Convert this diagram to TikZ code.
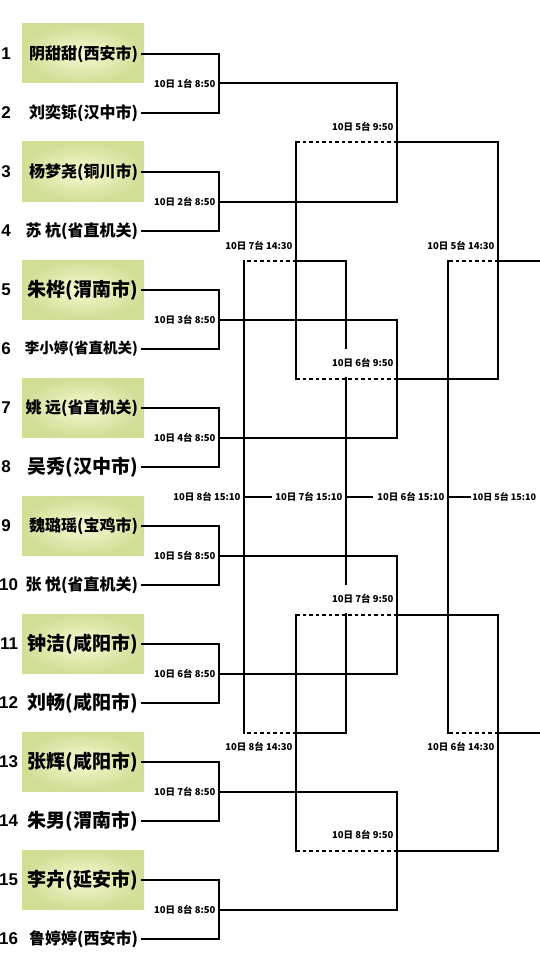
\documentclass[tikz,border=0pt]{standalone}
\usepackage{fontspec}
\setmainfont{Noto Sans CJK SC}
\newfontfamily\numfont{Liberation Sans}
\usetikzlibrary{positioning,calc}
\definecolor{seedgreen}{RGB}{208,222,150}
\definecolor{seedpale}{RGB}{250,248,210}
\newcommand{\namelg}{\fontsize{19}{19}\selectfont}
\newcommand{\namemd}{\fontsize{16}{16}\selectfont}
\newcommand{\namesm}{\fontsize{14.5}{15}\selectfont}
\tikzstyle{seedbox} = [rectangle, inner color=seedpale, outer color=seedgreen, minimum width=122pt, minimum height=59pt, inner sep=0pt]
\tikzstyle{player} = [anchor=east, inner sep=3pt, font=\bfseries]
\tikzstyle{seed} = [font=\numfont\bfseries\fontsize{17}{17}\selectfont, inner sep=0pt]
\tikzstyle{slot} = [anchor=east, font=\bfseries\fontsize{9.5}{10}\selectfont, inner sep=1pt, fill=white]
\tikzstyle{loser} = [dash pattern=on 3.5pt off 3pt, line cap=butt]

\begin{document}
\begin{tikzpicture}[x=1pt, y=-1pt, line width=2pt, line cap=rect]
  \useasboundingbox (0,0) rectangle (540,960);
  \clip (0,0) rectangle (540,960);

  % seeded players
  \node [seedbox] (s1) at (83,53.5) {};
  \node [seedbox] (s3) at (83,171.5) {};
  \node [seedbox] (s5) at (83,289.5) {};
  \node [seedbox] (s7) at (83,407.5) {};
  \node [seedbox] (s9) at (83,525.5) {};
  \node [seedbox] (s11) at (83,643.5) {};
  \node [seedbox] (s13) at (83,761.5) {};
  \node [seedbox] (s15) at (83,879.5) {};

  \foreach \n in {1,...,9}
    \node [seed] (n\n) at (6,{54+59*(\n-1)}) {\n};
  \foreach \n in {10,...,16}
    \node [seed, anchor=east] (n\n) at (19,{54+59*(\n-1)}) {\n};

  \node [player] (p1) at (142,54) {\namemd 阴甜甜(西安市)};
  \node [player] (p2) at (142,113) {\namemd 刘奕铄(汉中市)};
  \node [player] (p3) at (142,172) {\namemd 杨梦尧(铜川市)};
  \node [player] (p4) at (142,231) {\namemd 苏 杭(省直机关)};
  \node [player] (p5) at (142,290) {\namelg 朱桦(渭南市)};
  \node [player] (p6) at (142,349) {\namesm 李小婷(省直机关)};
  \node [player] (p7) at (142,408) {\namemd 姚 远(省直机关)};
  \node [player] (p8) at (142,467) {\namelg 吴秀(汉中市)};
  \node [player] (p9) at (142,526) {\namemd 魏璐瑶(宝鸡市)};
  \node [player] (p10) at (142,585) {\namemd 张 悦(省直机关)};
  \node [player] (p11) at (142,644) {\namelg 钟洁(咸阳市)};
  \node [player] (p12) at (142,703) {\namelg 刘畅(咸阳市)};
  \node [player] (p13) at (142,762) {\namelg 张辉(咸阳市)};
  \node [player] (p14) at (142,821) {\namelg 朱男(渭南市)};
  \node [player] (p15) at (142,880) {\namelg 李卉(延安市)};
  \node [player] (p16) at (142,939) {\namemd 鲁婷婷(西安市)};

  % match points
  \foreach \m in {1,...,8}
    \coordinate (r\m) at (219,{83.5+118*(\m-1)});
  \coordinate (q5) at (397,142.5);
  \coordinate (q6) at (397,378.5);
  \coordinate (q7) at (397,614.5);
  \coordinate (q8) at (397,850.5);
  \coordinate (w5) at (498,260.5);
  \coordinate (w6) at (498,732.5);
  \coordinate (d7) at (296,260.5);
  \coordinate (d8) at (296,732.5);
  \coordinate (f5) at (549,496.5);
  \coordinate (f6) at (448,496.5);
  \coordinate (f7) at (346,496.5);
  \coordinate (f8) at (244,496.5);
  \coordinate (g6) at ($(f6)+(25,0)$);
  \coordinate (g7) at ($(f7)+(26,0)$);
  \coordinate (g8) at ($(f8)+(27,0)$);

  % first round
  \foreach \m/\a/\b in {1/1/2, 2/3/4, 3/5/6, 4/7/8, 5/9/10, 6/11/12, 7/13/14, 8/15/16}
    \draw (p\a.east) -| (r\m) |- (p\b.east);

  % second round
  \draw (r1) -| (q5) |- (r2);
  \draw (r3) -| (q6) |- (r4);
  \draw (r5) -| (q7) |- (r6);
  \draw (r7) -| (q8) |- (r8);

  % winners side
  \draw (q5) -| (w5) |- (q6);
  \draw (q7) -| (w6) |- (q8);
  \draw (w5) -| (f5) |- (w6);
  \draw [loser] (w5) -- (w5 -| f6);
  \draw [loser] (w6) -- (w6 -| f6);
  \draw (w5 -| f6) -- (w6 -| f6);

  % losers side
  \draw [loser] (q5) -- (q5 -| d7);
  \draw [loser] (q6) -- (q6 -| d7);
  \draw (q5 -| d7) -- (q6 -| d7);
  \draw [loser] (q7) -- (q7 -| d8);
  \draw [loser] (q8) -- (q8 -| d8);
  \draw (q7 -| d8) -- (q8 -| d8);
  \draw (d7) -| (f7) |- (d8);
  \draw [loser] (d7) -- (d7 -| f8);
  \draw [loser] (d8) -- (d8 -| f8);
  \draw (d7 -| f8) -- (d8 -| f8);

  \draw (f6) -- (g6);
  \draw (f7) -- (g7);
  \draw (f8) -- (g8);

  % times
  \foreach \m in {1,...,8}
    \node [slot] (t\m) at ($(r\m)+(-1.5,0)$) {10日 \m{}台 8:50};
  \node [slot, minimum height=28pt] (u5) at ($(q5)+(-1.5,-15.5)$) {10日 5台 9:50};
  \node [slot, minimum height=28pt] (u6) at ($(q6)+(-1.5,-15.5)$) {10日 6台 9:50};
  \node [slot, minimum height=28pt] (u7) at ($(q7)+(-1.5,-15.5)$) {10日 7台 9:50};
  \node [slot, minimum height=28pt] (u8) at ($(q8)+(-1.5,-15.5)$) {10日 8台 9:50};
  \node [slot] (v5) at ($(w5)+(-1.5,-14.5)$) {10日 5台 14:30};
  \node [slot] (v6) at ($(w6)+(-1.5,14.5)$) {10日 6台 14:30};
  \node [slot] (v7) at ($(d7)+(-1.5,-14.5)$) {10日 7台 14:30};
  \node [slot] (v8) at ($(d8)+(-1.5,14.5)$) {10日 8台 14:30};
  \node [slot, font=\bfseries\fontsize{9}{10}\selectfont] (x5) at ($(f5)+(-11,0)$) {10日 5台 15:10};
  \node [slot] (x6) at ($(f6)+(-1.5,0)$) {10日 6台 15:10};
  \node [slot] (x7) at ($(f7)+(-1.5,0)$) {10日 7台 15:10};
  \node [slot] (x8) at ($(f8)+(-1.5,0)$) {10日 8台 15:10};
\end{tikzpicture}
\end{document}
